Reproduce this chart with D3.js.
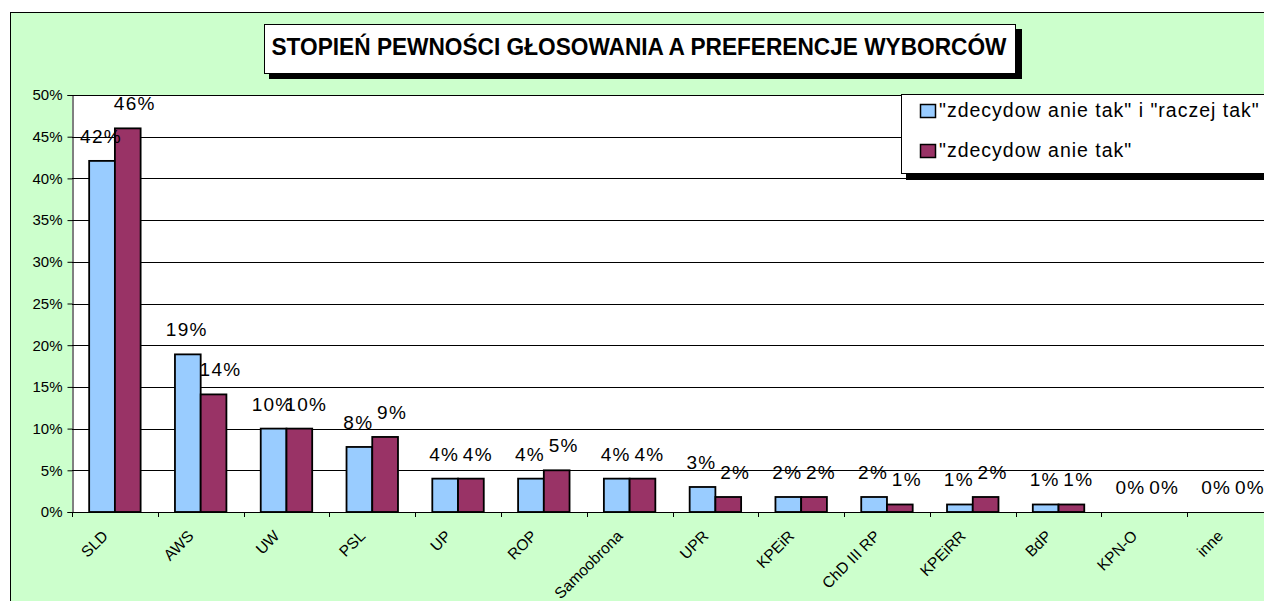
<!DOCTYPE html>
<html><head><meta charset="utf-8">
<script src="https://cdn.jsdelivr.net/npm/d3@7"></script>
<style>
html,body{margin:0;padding:0;background:#fff;}
svg{display:block;}
svg text{font-family:"Liberation Sans",Arial,sans-serif;}
</style></head>
<body><svg id="c" width="1264" height="601"></svg>
<script>
const title = "STOPIEŃ PEWNOŚCI GŁOSOWANIA A PREFERENCJE WYBORCÓW";
const categories = ["SLD","AWS","UW","PSL","UP","ROP","Samoobrona","UPR","KPEiR","ChD III RP","KPEiRR","BdP","KPN-O","inne"];
const seriesNames = ["\"zdecydow anie tak\" i \"raczej tak\"", "\"zdecydow anie tak\""];
const seriesA = [42.1,18.9,10,7.8,4,4,4,3,1.8,1.8,0.9,0.9,0,0];
const seriesB = [46,14.1,10,9,4,5,4,1.8,1.8,0.9,1.8,0.9,0,0];
const labelsA = [42,19,10,8,4,4,4,3,2,2,1,1,0,0];
const labelsB = [46,14,10,9,4,5,4,2,2,1,2,1,0,0];
const yTicks = [0,5,10,15,20,25,30,35,40,45,50];

const colors = ["#99CCFF","#993366"];
const svg = d3.select("#c");
const W = 1264, H = 601;
const plot = {l:72, t:95, r:1273, b:512};

// chart area
svg.append("rect").attr("x",10.5).attr("y",12.5).attr("width",W+20).attr("height",H+20)
  .attr("fill","#CCFFCC").attr("stroke","#000").attr("stroke-width",1);

const x0 = d3.scaleBand().domain(categories).range([plot.l, plot.r]).padding(0);
const x1 = d3.scaleBand().domain([0,1]).range([0, x0.bandwidth()]).paddingInner(0).paddingOuter(0.667);
const y = d3.scaleLinear().domain([0,50]).range([plot.b, plot.t]);

// plot area
svg.append("rect").attr("x",plot.l).attr("y",plot.t).attr("width",plot.r-plot.l).attr("height",plot.b-plot.t).attr("fill","#fff");

// gridlines
svg.append("g").selectAll("line").data(yTicks).join("line")
  .attr("x1",plot.l).attr("x2",plot.r)
  .attr("y1",d=>Math.round(y(d))+0.5).attr("y2",d=>Math.round(y(d))+0.5)
  .attr("stroke","#000").attr("stroke-width",1);

// y axis
const yAxis = d3.axisLeft(y).tickValues(yTicks).tickSize(5).tickPadding(5).tickFormat(d=>d+"%");
const gy = svg.append("g").attr("transform",`translate(${plot.l+0.5},0)`).call(yAxis)
  .attr("font-family",null).attr("font-size",null);
gy.select(".domain").attr("stroke","#000");
gy.selectAll(".tick line").attr("stroke","#000");
gy.selectAll(".tick text").attr("font-size",15).attr("fill","#000");

// x axis line & boundary ticks
svg.append("line").attr("x1",plot.l).attr("x2",plot.r).attr("y1",plot.b+0.5).attr("y2",plot.b+0.5).attr("stroke","#000");
const bounds = categories.map(c=>x0(c)).concat([x0(categories[categories.length-1])+x0.bandwidth()]);
svg.append("g").selectAll("line").data(bounds).join("line")
  .attr("x1",d=>Math.round(d)+0.5).attr("x2",d=>Math.round(d)+0.5)
  .attr("y1",plot.b).attr("y2",plot.b+5).attr("stroke","#000");

// category labels
svg.append("g").selectAll("text").data(categories).join("text")
  .attr("transform",d=>`translate(${x0(d)+x0.bandwidth()/2-6},${plot.b+25}) rotate(-45)`)
  .attr("text-anchor","end").attr("font-size",15.5).attr("fill","#000").text(d=>d);

// bars
const series = [seriesA, seriesB];
const labels = [labelsA, labelsB];
const labelDx = [-1, 7];
series.forEach((vals,si)=>{
  svg.append("g").selectAll("rect").data(vals).join("rect")
    .attr("x",(d,i)=>x0(categories[i])+x1(si))
    .attr("width",x1.bandwidth())
    .attr("y",d=>y(d))
    .attr("height",d=>y(0)-y(d))
    .attr("fill",colors[si]).attr("stroke","#000").attr("stroke-width",1.8)
    .attr("display",d=>d>0?null:"none");
});
series.forEach((vals,si)=>{
  svg.append("g").selectAll("text").data(vals).join("text")
    .attr("x",(d,i)=>x0(categories[i])+x1(si)+x1.bandwidth()/2+labelDx[si])
    .attr("y",d=>y(d)-18)
    .attr("text-anchor","middle").attr("font-size",19).attr("letter-spacing",1.3)
    .attr("fill","#000").text((d,i)=>labels[si][i]+"%");
});

// title box
svg.append("rect").attr("x",269).attr("y",29).attr("width",753).attr("height",50).attr("fill","#000");
svg.append("rect").attr("x",264.5).attr("y",24.5).attr("width",751).attr("height",49).attr("fill","#fff").attr("stroke","#000").attr("stroke-width",1);
svg.append("text").attr("x",271.5).attr("y",54.5).attr("font-size",23).attr("font-weight","bold")
  .attr("textLength",735).attr("lengthAdjust","spacingAndGlyphs").attr("fill","#000").text(title);

// legend
svg.append("rect").attr("x",906).attr("y",99).attr("width",400).attr("height",81).attr("fill","#000");
svg.append("rect").attr("x",901.5).attr("y",94.5).attr("width",400).attr("height",79).attr("fill","#fff").attr("stroke","#000").attr("stroke-width",1);
const leg = svg.append("g").selectAll("g").data(seriesNames).join("g")
  .attr("transform",(d,i)=>`translate(920,${104+i*40})`);
leg.append("rect").attr("x",0.5).attr("y",0.5).attr("width",15).attr("height",13)
  .attr("fill",(d,i)=>colors[i]).attr("stroke","#000").attr("stroke-width",1.5);
leg.append("text").attr("x",19).attr("y",13).attr("font-size",19.5).attr("letter-spacing",1.0)
  .attr("fill","#000").text(d=>d);
</script></body></html>
